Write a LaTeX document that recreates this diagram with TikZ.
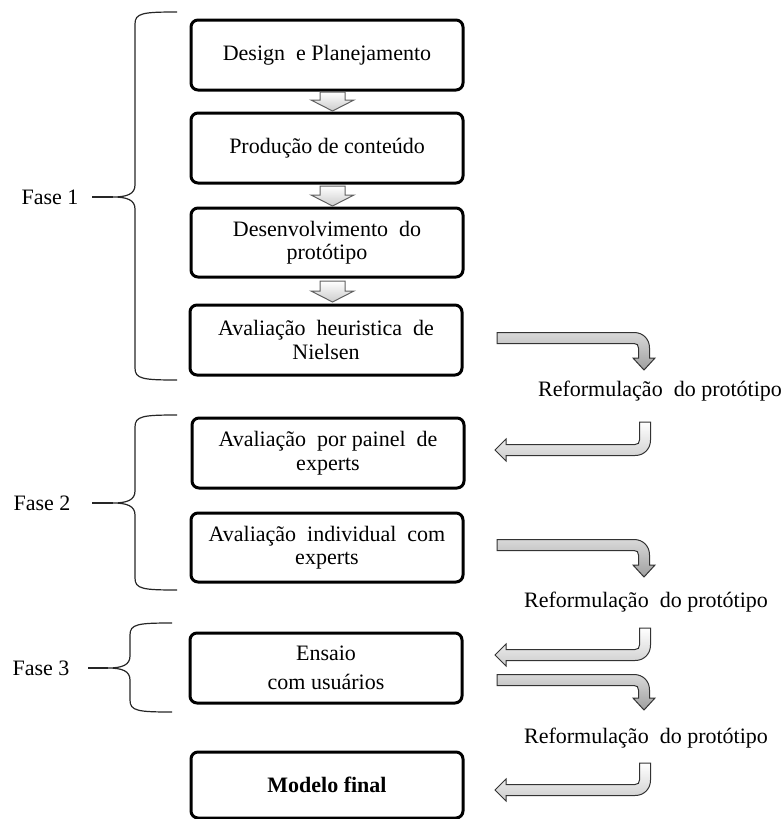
\documentclass[tikz,border=0pt]{standalone}
\usepackage{fontspec}
\setmainfont{Liberation Serif}
\begin{document}
\begin{tikzpicture}[x=1pt,y=-1pt,
  stage/.style={draw=black, line width=3pt, rounded corners=7pt, minimum width=272pt, align=center, inner sep=0pt, font=\fontsize{22}{23.5}\selectfont},
  lbl/.style={font=\fontsize{22}{23.5}\selectfont, inner sep=0pt},
  bracepath/.style={draw=black!85, line width=1.2pt},
  blockdown/.style={draw=gray!75!black, line width=1pt, top color=white, bottom color=gray!40},
  turnA/.style={draw=gray!40!black, line width=1pt, top color=gray!30, bottom color=gray!75},
  turnB/.style={draw=gray!40!black, line width=1pt, top color=white, bottom color=gray!40}]
\useasboundingbox (0,0) rectangle (782,819);

% stages
\node[stage, minimum height=70pt] (s1) at (327,55) {Design~ e Planejamento};
\node[stage, minimum height=70pt] (s2) at (327,148) {Produção de conteúdo};
\node[stage, minimum height=69pt] (s3) at (327,242.5) {Desenvolvimento~ do\\protótipo};
\node[stage, minimum height=70pt] (s4) at (326,340) {Avaliação~ heuristica~ de\\Nielsen};
\node[stage, minimum height=70pt] (s5) at (328,453) {Avaliação~ por painel~ de\\experts};
\node[stage, minimum height=69pt] (s6) at (327,547.5) {Avaliação~ individual~ com\\experts};
\node[stage, minimum height=70pt] (s7) at (326,668) {Ensaio\\[5pt]com usuários};
\node[stage, minimum height=66pt] (s8) at (327,785) {\bfseries Modelo final};

% block arrows between first stages
\newcommand{\myblockdown}[2]{%
  \path[blockdown] (320,#1) -- (345,#1) -- (345,{#2-11}) -- (354,{#2-11}) -- (332.5,#2) -- (311,{#2-11}) -- (320,{#2-11}) -- cycle;}
\myblockdown{92}{111}
\myblockdown{186}{206}
\myblockdown{281}{302}

% braces
\newcommand{\mybrace}[6]{%
  \draw[bracepath] (#1,#3) .. controls ({#2+8},#3) and (#2,{#3+1}) .. (#2,{#3+12})
    -- (#2,{#4-12}) .. controls (#2,{#4-3}) and ({#2-8},#4) .. ({#2-22},#4)
    .. controls ({#2-8},#4) and (#2,{#4+3}) .. (#2,{#4+12})
    -- (#2,{#5-12}) .. controls (#2,{#5-1}) and ({#2+8},#5) .. (#1,#5);
  \draw[bracepath] (#6,#4) -- ({#2-22},#4);}
\mybrace{177}{135}{12}{197}{380}{92}
\mybrace{177}{135}{415}{503}{590}{92}
\mybrace{172}{130}{623}{668}{712}{88}

\node[lbl] (f1) at (50,197) {Fase 1};
\node[lbl] (f2) at (42,503) {Fase 2};
\node[lbl] (f3) at (41,668) {Fase 3};

% reformulation labels
\node[lbl] (r1) at (660,391) {Reformulação~ do protótipo};
\node[lbl] (r2) at (646,602) {Reformulação~ do protótipo};
\node[lbl] (r3) at (646,738) {Reformulação~ do protótipo};

% turning arrows: out of a stage, down to the label
\newcommand{\myturnA}[2]{% #1 bar centre y, #2 tip y
  \path[turnA] (497,{#1-5.5}) -- (634,{#1-5.5}) .. controls (643,{#1-5.5}) and (649.5,{#1+1}) .. (649.5,{#1+10})
    -- (649.5,{#2-12}) -- (655,{#2-12}) -- (644,#2) -- (633,{#2-12}) -- (638.5,{#2-12})
    -- (638.5,{#1+10}) .. controls (638.5,{#1+7}) and (637,{#1+5.5}) .. (634,{#1+5.5})
    -- (497,{#1+5.5}) -- cycle;}
% turning arrows: from the label, back to a stage
\newcommand{\myturnB}[2]{% #1 top y, #2 bar centre y
  \path[turnB] (639.5,#1) -- (650.5,#1) -- (650.5,{#2-10}) .. controls (650.5,{#2-1}) and (644,{#2+5.5}) .. (635,{#2+5.5})
    -- (506,{#2+5.5}) -- (506,{#2+11}) -- (495,#2) -- (506,{#2-11}) -- (506,{#2-5.5})
    -- (635,{#2-5.5}) .. controls (638,{#2-5.5}) and (639.5,{#2-7}) .. (639.5,{#2-10}) -- cycle;}

\myturnA{338}{370}
\myturnB{422}{450}
\myturnA{545}{577}
\myturnB{628}{655}
\myturnA{680}{710}
\myturnB{763}{790}
\end{tikzpicture}
\end{document}
